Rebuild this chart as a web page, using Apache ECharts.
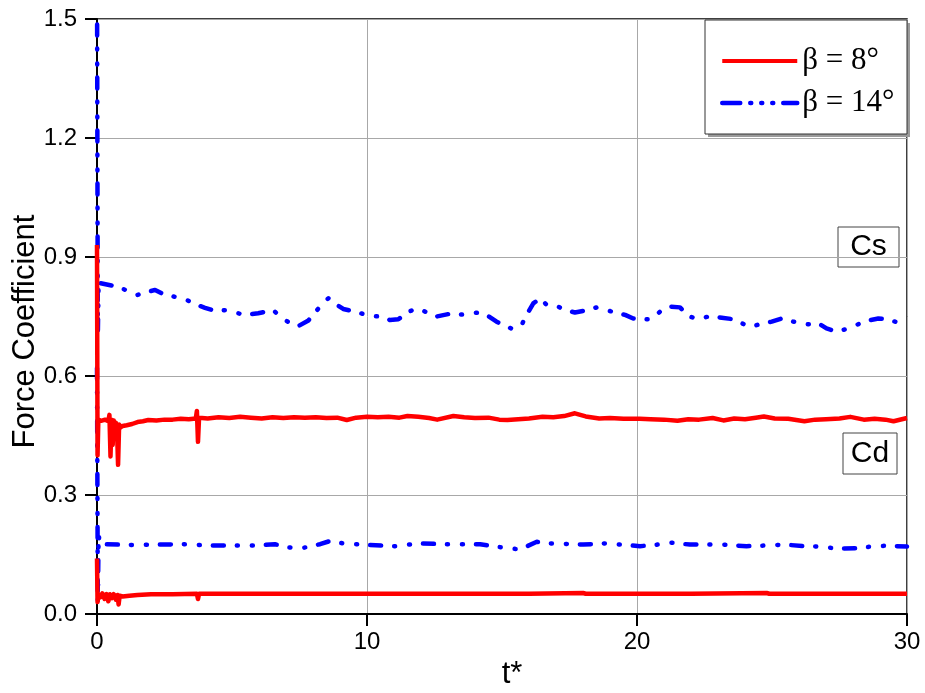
<!DOCTYPE html>
<html>
<head>
<meta charset="utf-8">
<script src="https://cdn.jsdelivr.net/npm/echarts@6/dist/echarts.min.js"></script>
<style>
  html, body { margin: 0; padding: 0; background: #fff; }
  #chart { width: 925px; height: 693px; }
</style>
</head>
<body>
<div id="chart"></div>
<script>
// Force coefficients against dimensionless time t*
const legendNames = ['β = 8°', 'β = 14°'];
const xTicks = [0, 10, 20, 30];
const yTicks = [0.0, 0.3, 0.6, 0.9, 1.2, 1.5];

// β = 8°, side-force coefficient Cs  [t*, value]
const cs8 = [[0,0.93],[0.02,0.40],[0.05,0.49],[0.15,0.487],[0.3,0.49],[0.42,0.486],[0.46,0.502],[0.5,0.397],
  [0.54,0.49],[0.58,0.426],[0.62,0.488],[0.66,0.45],[0.7,0.482],[0.74,0.468],[0.78,0.376],[0.82,0.478],
  [0.86,0.47],[0.95,0.474],[1.1,0.476],[1.3,0.479],[1.5,0.484],[1.7,0.486],[1.9,0.489],[2.2,0.488],
  [2.5,0.49],[2.8,0.49],[3.1,0.492],[3.4,0.491],[3.66,0.493],[3.7,0.512],[3.74,0.434],[3.78,0.495],
  [3.82,0.492],[4.1,0.493],[4.5,0.496],[4.9,0.494],[5.3,0.497],[5.7,0.495],[6.1,0.493],[6.5,0.496],
  [6.9,0.494],[7.3,0.496],[7.7,0.495],[8.1,0.496],[8.5,0.494],[8.9,0.495],[9.25,0.489],[9.6,0.495],
  [10.0,0.497],[10.4,0.496],[10.8,0.497],[11.2,0.495],[11.5,0.499],[11.9,0.497],[12.3,0.494],[12.6,0.49],
  [13.2,0.499],[13.6,0.496],[14.0,0.494],[14.5,0.495],[14.9,0.49],[15.2,0.489],[15.6,0.491],[16.0,0.493],
  [16.5,0.497],[16.9,0.496],[17.3,0.499],[17.7,0.506],[18.1,0.498],[18.6,0.493],[19.0,0.494],[19.5,0.492],
  [20.1,0.492],[20.5,0.491],[21.0,0.49],[21.5,0.487],[21.9,0.491],[22.3,0.49],[22.8,0.494],[23.2,0.488],
  [23.6,0.493],[24.0,0.491],[24.4,0.495],[24.7,0.498],[25.1,0.493],[25.6,0.492],[26.2,0.486],[26.6,0.49],
  [27.0,0.491],[27.5,0.493],[27.9,0.497],[28.4,0.49],[28.8,0.492],[29.2,0.49],[29.5,0.486],[30.0,0.494]];

// β = 8°, drag coefficient Cd
const cd8 = [[0,0.14],[0.02,0.03],[0.05,0.05],[0.12,0.042],[0.2,0.052],[0.28,0.038],[0.35,0.05],[0.42,0.032],
  [0.48,0.05],[0.55,0.04],[0.62,0.05],[0.7,0.036],[0.76,0.048],[0.8,0.024],[0.84,0.046],[0.95,0.044],
  [1.2,0.046],[1.5,0.048],[2.0,0.05],[2.8,0.05],[3.7,0.051],[3.74,0.038],[3.78,0.051],[5,0.051],[8,0.051],
  [12,0.051],[16,0.051],[18.0,0.053],[18.1,0.051],[22,0.051],[24.8,0.053],[24.9,0.051],[30,0.051]];

// β = 14°, side-force coefficient Cs
const cs14 = [[0,1.62],[0.03,0.70],[0.06,0.84],[0.11,0.834],[0.79,0.825],[1.47,0.804],[1.78,0.81],[2.15,0.817],
  [2.52,0.804],[3.2,0.796],[3.63,0.781],[4.0,0.772],[4.37,0.764],[4.74,0.766],[5.11,0.76],[5.48,0.754],
  [5.97,0.758],[6.53,0.766],[6.78,0.75],[7.15,0.733],[7.46,0.726],[7.83,0.74],[8.26,0.775],[8.57,0.796],
  [8.81,0.783],[9.12,0.769],[9.68,0.76],[10.11,0.751],[10.51,0.75],[10.85,0.741],[11.16,0.743],[11.53,0.762],
  [11.9,0.771],[12.27,0.758],[12.58,0.75],[13.01,0.756],[13.38,0.754],[13.88,0.758],[14.12,0.76],[14.43,0.754],
  [14.8,0.737],[15.11,0.726],[15.42,0.718],[15.73,0.729],[15.91,0.754],[16.16,0.783],[16.41,0.796],[16.66,0.779],
  [16.96,0.779],[17.27,0.768],[17.7,0.76],[18.14,0.766],[18.51,0.773],[18.88,0.766],[19.19,0.76],[19.56,0.754],
  [19.86,0.745],[20.17,0.743],[20.54,0.743],[20.85,0.762],[21.22,0.775],[21.59,0.773],[21.9,0.751],[22.27,0.743],
  [22.7,0.751],[23.14,0.747],[23.57,0.743],[23.88,0.733],[24.19,0.723],[24.56,0.731],[24.99,0.737],[25.36,0.745],
  [25.79,0.737],[26.28,0.73],[26.72,0.733],[27.02,0.72],[27.33,0.713],[27.77,0.718],[28.14,0.729],[28.51,0.739],
  [28.94,0.745],[29.25,0.743],[29.56,0.737],[30.0,0.732]];

// β = 14°, drag coefficient Cd
const cd14 = [[0,0.62],[0.03,0.03],[0.06,0.2],[0.11,0.176],[1.34,0.174],[3.2,0.176],[4.06,0.173],[5.91,0.173],
  [6.59,0.176],[7.09,0.168],[7.52,0.165],[8.26,0.176],[8.63,0.184],[9.12,0.178],[9.99,0.174],[11.04,0.171],
  [11.96,0.178],[12.83,0.176],[14.19,0.176],[15.17,0.166],[15.67,0.163],[16.29,0.182],[16.78,0.178],[17.27,0.177],
  [18.01,0.175],[18.81,0.178],[19.37,0.175],[20.11,0.171],[20.67,0.174],[21.22,0.18],[21.96,0.175],[22.64,0.175],
  [23.14,0.175],[24.06,0.171],[24.93,0.173],[25.48,0.175],[26.16,0.171],[26.9,0.17],[27.33,0.165],[28.14,0.166],
  [28.81,0.171],[29.25,0.172],[30.0,0.17]];

const SANS = 'Liberation Sans';
const SERIF = 'Liberation Serif';
const RED = '#ff0000';
const BLUE = '#0000ff';
const dashDotDot = [11, 13, 1, 14, 1, 13];

const chart = echarts.init(document.getElementById('chart'), null, { renderer: 'canvas' });

function lineSeries(name, data, color, dashed) {
  return {
    name: name,
    type: 'line',
    data: data,
    symbol: 'none',
    clip: true,
    animation: false,
    lineStyle: {
      color: color,
      width: 4.5,
      type: dashed ? dashDotDot : 'solid',
      cap: dashed ? 'round' : 'butt',
      join: 'round'
    },
    itemStyle: { color: color }
  };
}

function annotation(x, y, w, h, label) {
  return {
    type: 'group',
    z: 20,
    children: [
      { type: 'rect', shape: { x: x, y: y, width: w, height: h },
        style: { fill: '#fff', stroke: '#444', lineWidth: 1 } },
      { type: 'text', x: x + w / 2, y: y + h / 2,
        style: { text: label, fill: '#000', font: '30px ' + SANS, align: 'center', verticalAlign: 'middle' } }
    ]
  };
}

chart.setOption({
  backgroundColor: '#fff',
  animation: false,
  grid: {
    left: 97, right: 18, top: 19, bottom: 79,
    outerBoundsMode: 'none',
    containLabel: false,
    show: true, borderColor: '#000', borderWidth: 1.5, backgroundColor: 'transparent'
  },
  xAxis: {
    type: 'value', min: xTicks[0], max: xTicks[xTicks.length - 1], interval: 10,
    name: 't*', nameLocation: 'middle', nameGap: 40,
    nameTextStyle: { fontFamily: SANS, fontSize: 31, color: '#000', padding: [0, 0, 0, 20] },
    axisLine: { show: true, onZero: false, lineStyle: { color: '#000', width: 2 } },
    axisTick: { show: true, inside: false, length: 12, lineStyle: { color: '#000', width: 2 } },
    axisLabel: { fontFamily: SANS, fontSize: 24, color: '#000', margin: 16 },
    splitLine: { show: true, lineStyle: { color: '#a8a8a8', width: 1 } }
  },
  yAxis: {
    type: 'value', min: yTicks[0], max: yTicks[yTicks.length - 1], interval: 0.3,
    name: 'Force Coefficient', nameLocation: 'middle', nameGap: 56, nameRotate: 90,
    nameMoveOverlap: false,
    nameTextStyle: { fontFamily: SANS, fontSize: 31, color: '#000', padding: [0, 30, 0, 0] },
    axisLine: { show: true, onZero: false, lineStyle: { color: '#000', width: 2 } },
    axisTick: { show: true, inside: false, length: 12, lineStyle: { color: '#000', width: 2 } },
    axisLabel: { fontFamily: SANS, fontSize: 24, color: '#000', margin: 20,
      formatter: function (v) { return v.toFixed(1); } },
    splitLine: { show: true, lineStyle: { color: '#a8a8a8', width: 1 } }
  },
  legend: {
    orient: 'vertical',
    left: 715, top: 40,
    z: 30,
    itemWidth: 75, itemHeight: 14, itemGap: 10,
    itemStyle: { opacity: 0, color: 'transparent', borderWidth: 0 },
    lineStyle: { width: 4 },
    textStyle: { fontFamily: SERIF, fontSize: 31, color: '#000', lineHeight: 32, padding: [0, 0, 0, 0] },
    data: [
      { name: legendNames[0], lineStyle: { width: 4, type: 'solid' } },
      { name: legendNames[1], lineStyle: { width: 4.5, type: [18, 10, 1, 10, 1, 10, 1, 10], cap: 'round' } }
    ]
  },
  graphic: [
    { type: 'rect', z: 25, shape: { x: 708, y: 23, width: 202, height: 114 }, style: { fill: '#9a9a9a' } },
    { type: 'rect', z: 26, shape: { x: 705, y: 20, width: 202, height: 114 },
      style: { fill: '#fff', stroke: '#333', lineWidth: 1 } },
    annotation(838, 227, 61, 40, 'Cs'),
    annotation(843, 433, 54, 41, 'Cd')
  ],
  series: [
    lineSeries(legendNames[1], cs14, BLUE, true),
    lineSeries(legendNames[1], cd14, BLUE, true),
    lineSeries(legendNames[0], cs8, RED, false),
    lineSeries(legendNames[0], cd8, RED, false)
  ]
});
</script>
</body>
</html>
